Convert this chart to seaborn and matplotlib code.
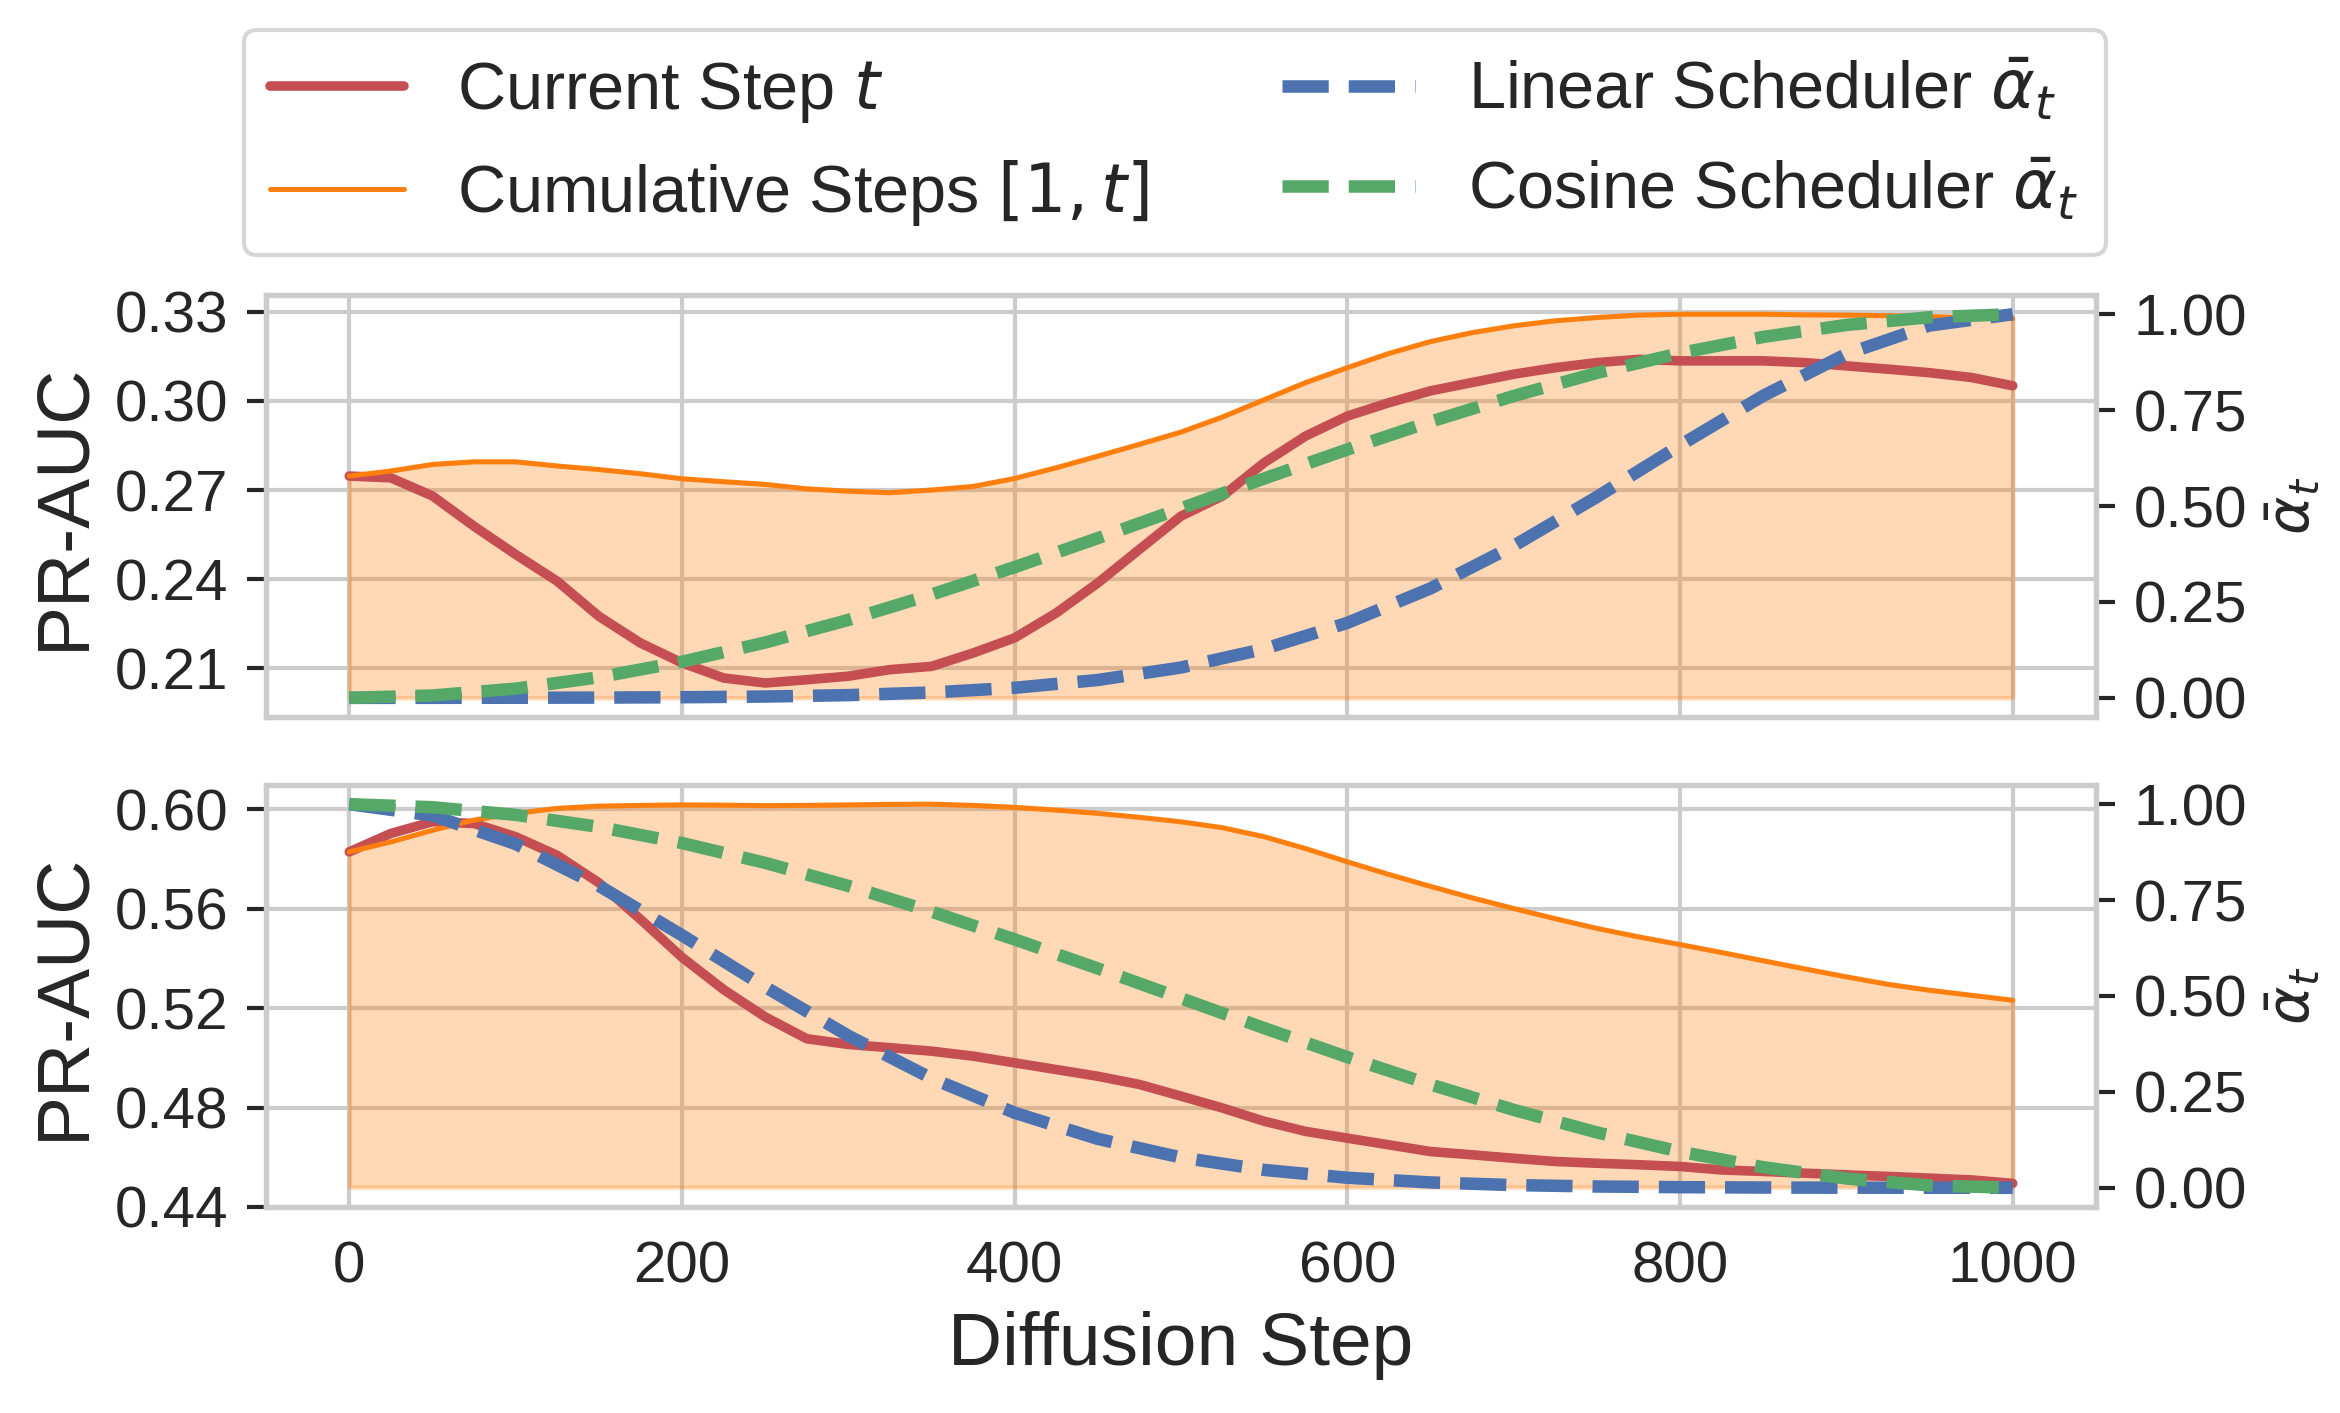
import matplotlib
matplotlib.use("Agg")
import matplotlib.pyplot as plt
from matplotlib.ticker import FormatStrFormatter
import seaborn as sns

# diffusion steps (PR-AUC curves read every 25 steps, schedulers every 50)
steps = list(range(0, 1001, 25))
sched_steps = list(range(0, 1001, 50))

# upper panel
top_current = [0.2747, 0.2741, 0.2680, 0.2578, 0.2483, 0.2393, 0.2275, 0.2185, 0.2118, 0.2067,
               0.2050, 0.2061, 0.2073, 0.2095, 0.2106, 0.2151, 0.2202, 0.2286, 0.2387, 0.2500,
               0.2612, 0.2680, 0.2792, 0.2882, 0.2949, 0.2994, 0.3034, 0.3062, 0.3090, 0.3112,
               0.3129, 0.3140, 0.3135, 0.3135, 0.3135, 0.3129, 0.3118, 0.3107, 0.3095, 0.3079,
               0.3051]
top_cumulative = [0.2747, 0.2764, 0.2786, 0.2795, 0.2795, 0.2781, 0.2769, 0.2755, 0.2738, 0.2728,
                  0.2719, 0.2704, 0.2696, 0.2691, 0.2700, 0.2712, 0.2739, 0.2775, 0.2814, 0.2854,
                  0.2895, 0.2946, 0.3004, 0.3062, 0.3112, 0.3160, 0.3200, 0.3230, 0.3253, 0.3270,
                  0.3281, 0.3289, 0.3292, 0.3292, 0.3292, 0.3290, 0.3289, 0.3287, 0.3284, 0.3281,
                  0.3278]
top_linear = [0.0, 0.0001, 0.0003, 0.0007, 0.0016, 0.0034, 0.0071, 0.0140, 0.0262, 0.0466, 0.0791,
              0.1275, 0.1955, 0.2854, 0.3963, 0.5237, 0.6584, 0.7875, 0.8963, 0.9705, 1.0]
top_cosine = [0.0, 0.0061, 0.0241, 0.0537, 0.0941, 0.1443, 0.2031, 0.2692, 0.3407, 0.4163, 0.4939,
              0.5717, 0.6475, 0.7199, 0.7869, 0.8470, 0.8987, 0.9408, 0.9721, 0.9920, 1.0]
top_floor = 0.20
top_yticks = [0.21, 0.24, 0.27, 0.30, 0.33]

# lower panel
bottom_current = [0.5829, 0.5903, 0.5950, 0.5943, 0.5890, 0.5815, 0.5705, 0.5558, 0.5405, 0.5275,
                  0.5165, 0.5077, 0.5054, 0.5041, 0.5027, 0.5007, 0.4980, 0.4953, 0.4926, 0.4893,
                  0.4846, 0.4798, 0.4745, 0.4704, 0.4677, 0.4650, 0.4623, 0.4610, 0.4596, 0.4583,
                  0.4576, 0.4570, 0.4563, 0.4549, 0.4543, 0.4536, 0.4529, 0.4523, 0.4516, 0.4509,
                  0.4495]
bottom_cumulative = [0.5829, 0.5869, 0.5916, 0.5957, 0.5984, 0.6004, 0.6013, 0.6016, 0.6018, 0.6017,
                     0.6015, 0.6016, 0.6018, 0.6020, 0.6021, 0.6016, 0.6008, 0.5997, 0.5984, 0.5968,
                     0.5950, 0.5926, 0.5890, 0.5842, 0.5789, 0.5738, 0.5690, 0.5644, 0.5601, 0.5560,
                     0.5521, 0.5487, 0.5456, 0.5424, 0.5391, 0.5358, 0.5326, 0.5296, 0.5272, 0.5252,
                     0.5232]
bottom_linear = [1.0, 0.9705, 0.8963, 0.7875, 0.6584, 0.5237, 0.3963, 0.2854, 0.1955, 0.1275, 0.0791,
                 0.0466, 0.0262, 0.0140, 0.0071, 0.0034, 0.0016, 0.0007, 0.0003, 0.0001, 0.0]
bottom_cosine = [1.0, 0.9920, 0.9721, 0.9408, 0.8987, 0.8470, 0.7869, 0.7199, 0.6475, 0.5717, 0.4939,
                 0.4163, 0.3407, 0.2692, 0.2031, 0.1443, 0.0941, 0.0537, 0.0241, 0.0061, 0.0]
bottom_floor = 0.448
bottom_yticks = [0.44, 0.48, 0.52, 0.56, 0.60]

alpha_ticks = [0.0, 0.25, 0.50, 0.75, 1.0]
x_ticks = [0, 200, 400, 600, 800, 1000]

labels = [r"Current Step $t$", r"Cumulative Steps $[1, t]$",
          r"Linear Scheduler $\bar{\alpha}_t$", r"Cosine Scheduler $\bar{\alpha}_t$"]

red = "#C44E52"
orange = "#ff7f0e"
blue = "#4C72B0"
green = "#55A868"

sns.set_theme(style="whitegrid")
plt.rcParams['font.family'] = ['Liberation Sans', 'DejaVu Sans']

fig, axes = plt.subplots(2, 1, figsize=(7.8, 4.71), dpi=300, sharex=True)
fig.subplots_adjust(left=0.1137, right=0.8957, top=0.7912, bottom=0.1458, hspace=0.161)

panels = [
    (top_current, top_cumulative, top_linear, top_cosine, top_floor, top_yticks),
    (bottom_current, bottom_cumulative, bottom_linear, bottom_cosine, bottom_floor, bottom_yticks),
]

handles = []
for i, (ax, (cur, cum, lin, cos, floor, yt)) in enumerate(zip(axes, panels)):
    ax.fill_between(steps, floor, cum, color=orange, alpha=0.3)
    sns.lineplot(x=steps, y=cur, ax=ax, color=red, lw=2.3)
    sns.lineplot(x=steps, y=cum, ax=ax, color=orange, lw=1.2)
    ax.set_yticks(yt)
    ax.yaxis.set_major_formatter(FormatStrFormatter('%.2f'))
    ax.set_ylabel("PR-AUC", fontsize=18)
    ax.tick_params(axis='y', left=True, length=4.5, width=1, pad=4.5, labelsize=14)
    ax.tick_params(axis='x', length=0, pad=8, labelsize=14)
    ax.set_xticks(x_ticks)

    ax2 = ax.twinx()
    sns.lineplot(x=sched_steps, y=lin, ax=ax2, color=blue, lw=3, linestyle='--')
    sns.lineplot(x=sched_steps, y=cos, ax=ax2, color=green, lw=3, linestyle='--')
    ax2.grid(False)
    ax2.set_ylim(-0.05, 1.05)
    ax2.set_yticks(alpha_ticks)
    ax2.yaxis.set_major_formatter(FormatStrFormatter('%.2f'))
    ax2.tick_params(axis='y', right=True, length=4.5, width=1, pad=4.5, labelsize=14)
    ax2.set_ylabel(r"$\bar{\alpha}_t$", fontsize=14, labelpad=4)

    if i == 0:
        handles = list(ax.get_lines()[:2]) + list(ax2.get_lines()[:2])

axes[1].set_xlabel("Diffusion Step", fontsize=18)

fig.legend(handles, labels, loc='upper center', bbox_to_anchor=(0.502, 0.979),
           ncol=2, fontsize=16, frameon=True, borderaxespad=0)

fig.savefig("out.png", dpi=300)
